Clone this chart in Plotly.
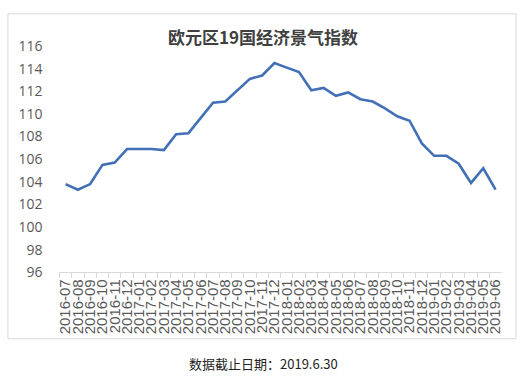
import plotly.graph_objects as go

months = ["2016-07","2016-08","2016-09","2016-10","2016-11","2016-12",
          "2017-01","2017-02","2017-03","2017-04","2017-05","2017-06",
          "2017-07","2017-08","2017-09","2017-10","2017-11","2017-12",
          "2018-01","2018-02","2018-03","2018-04","2018-05","2018-06",
          "2018-07","2018-08","2018-09","2018-10","2018-11","2018-12",
          "2019-01","2019-02","2019-03","2019-04","2019-05","2019-06"]
esi = [103.8, 103.3, 103.8, 105.5, 105.7, 106.9,
       106.9, 106.9, 106.8, 108.2, 108.3, 109.7,
       111.0, 111.1, 112.1, 113.1, 113.4, 114.5,
       114.1, 113.7, 112.1, 112.3, 111.6, 111.9,
       111.3, 111.1, 110.5, 109.8, 109.4, 107.4,
       106.3, 106.3, 105.6, 103.9, 105.2, 103.3]
y_ticks = list(range(96, 117, 2))

W, H = 525, 382
fig = go.Figure()
fig.add_trace(go.Scatter(x=months, y=esi, mode="lines",
                         line=dict(color="#4270B6", width=2.6),
                         hoverinfo="x+y", showlegend=False))

fig.update_layout(
    width=W, height=H,
    margin=dict(l=0, r=0, t=0, b=0),
    paper_bgcolor="white", plot_bgcolor="white",
    xaxis=dict(domain=[57/W, 503.5/W], type="category", range=[-0.5, 35.5],
               tickmode="array", tickvals=months, ticktext=months,
               showline=True, linecolor="#D9D9D9", linewidth=1,
               ticks="outside", tickson="boundaries", ticklen=5, tickcolor="#D9D9D9",
               tickangle=-90, showgrid=False, zeroline=False,
               tickfont=dict(family="Liberation Sans, Arial", size=15, color="#595959")),
    yaxis=dict(domain=[1-276/H, 1-38/H], range=[96, 116], tickvals=y_ticks,
               showline=False, showgrid=False, zeroline=False, ticks="",
               ticklabelstandoff=16,
               tickfont=dict(family="Open Sans, Liberation Sans", size=14, color="#595959")),
    shapes=[dict(type="rect", xref="paper", yref="paper",
                 x0=5/W, x1=518/W, y0=1-346/H, y1=1-4/H,
                 line=dict(color="#D9D9D9", width=1), fillcolor="rgba(0,0,0,0)")],
    annotations=[
        dict(text="<b>欧元区19国经济景气指数</b>", xref="paper", yref="paper",
             x=262/W, y=1-28/H, xanchor="center", yanchor="middle", showarrow=False,
             font=dict(family="Noto Sans CJK SC", size=17, color="#404040")),
        dict(text="数据截止日期：2019.6.30", xref="paper", yref="paper",
             x=263/W, y=1-372/H, xanchor="center", yanchor="middle", showarrow=False,
             font=dict(family="Noto Sans CJK SC", size=13, color="#222222")),
    ],
)
fig.write_html("out.html")
